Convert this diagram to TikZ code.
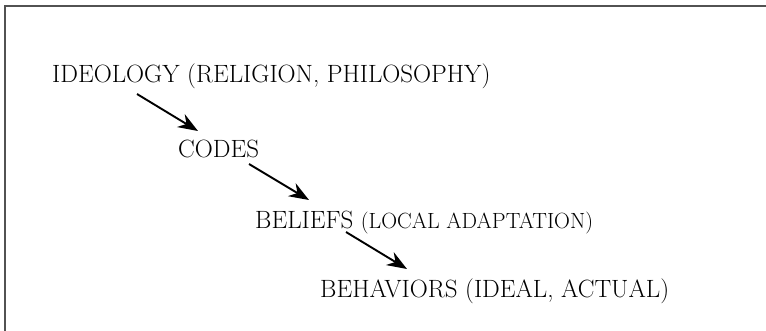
\documentclass[tikz,border=0pt]{standalone}
\usetikzlibrary{arrows.meta}
\tikzset{
	mot/.style={anchor=base west, inner sep=0pt, font=\fontsize{25}{30}\selectfont},
	fleche/.style={line width=1.9pt, -{Stealth[length=20pt,width=15pt]}},
	cadre/.style={line width=2pt, black!68}
}
\newcommand{\petit}[1]{{\fontsize{22}{26}\selectfont #1}}
\begin{document}
\begin{tikzpicture}[x=1pt,y=-1pt]
				\useasboundingbox (0,0) rectangle (766,330);
				\draw[cadre] (5,331)--(5,6)--(767,6);
					\node[mot] (ideo) at (52,82) {IDEOLOGY (RELIGION, PHILOSOPHY)};
					\node[mot] (codes) at (178,157) {CODES};
					\node[mot] (beliefs) at (255,228) {BELIEFS \petit{(LOCAL ADAPTATION)}};
					\node[mot] (behav) at (320,297) {BEHAVIORS (IDEAL, ACTUAL)};
					\draw[fleche] ([shift={(85,12)}]ideo.base west)--([shift={(20,-26)}]codes.base west);
					\draw[fleche] ([shift={(71,7)}]codes.base west)--([shift={(54,-28)}]beliefs.base west);
					\draw[fleche] ([shift={(91,4)}]beliefs.base west)--([shift={(87,-28)}]behav.base west);
			\end{tikzpicture}
\end{document}
